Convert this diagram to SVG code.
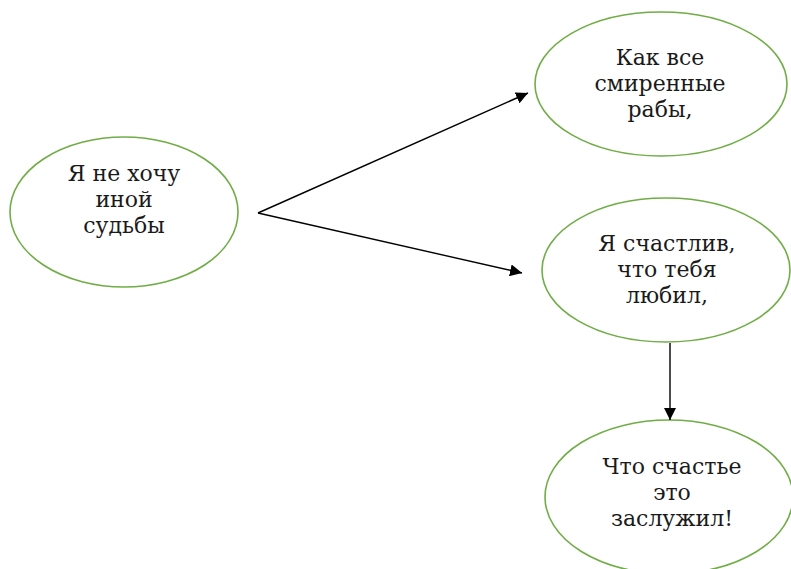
<svg xmlns="http://www.w3.org/2000/svg" width="791" height="569" viewBox="0 0 791 569">
<style>
.node ellipse{fill:#fff;stroke:#70AD47;stroke-width:1.6}
.node text{font-family:"DejaVu Serif","Liberation Serif",serif;font-size:22px;fill:#1a1a1a;text-anchor:middle}
.conn line{stroke:#000;stroke-width:1.4;fill:none}
</style>
<defs>
<marker id="arr" markerUnits="userSpaceOnUse" markerWidth="13" markerHeight="12" refX="12" refY="6" orient="auto">
<path d="M0,0 L12,6 L0,12 z" fill="#000"/>
</marker>
</defs>
<rect width="791" height="569" fill="#fff"/>
<g id="n1" class="node">
<ellipse cx="124" cy="212" rx="114" ry="75"/>
<text x="124" y="181">Я не хочу</text>
<text x="124" y="207">иной</text>
<text x="124" y="233">судьбы</text>
</g>
<g id="n2" class="node">
<ellipse cx="661" cy="84" rx="126" ry="72"/>
<text x="660" y="65">Как все</text>
<text x="660" y="91">смиренные</text>
<text x="660" y="117">рабы,</text>
</g>
<g id="n3" class="node">
<ellipse cx="666" cy="270" rx="124" ry="72"/>
<text x="667" y="251">Я счастлив,</text>
<text x="667" y="277">что тебя</text>
<text x="667" y="303">любил,</text>
</g>
<g id="n4" class="node">
<ellipse cx="669" cy="497" rx="124" ry="77"/>
<text x="672" y="474">Что счастье</text>
<text x="672" y="500">это</text>
<text x="672" y="526">заслужил!</text>
</g>
<g id="connectors" class="conn">
<line x1="258" y1="213" x2="528" y2="93" marker-end="url(#arr)"/>
<line x1="258" y1="213" x2="522" y2="273" marker-end="url(#arr)"/>
<line x1="670" y1="343" x2="670" y2="420" marker-end="url(#arr)"/>
</g>
</svg>
